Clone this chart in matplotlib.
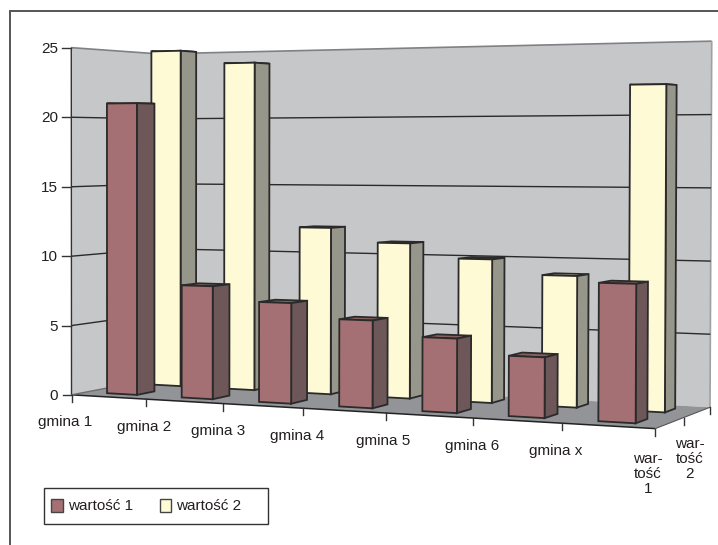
import numpy as np
import matplotlib
matplotlib.use("Agg")
import matplotlib.pyplot as plt
from matplotlib.patches import Polygon, Rectangle

plt.rcParams['font.family'] = ['Liberation Sans', 'DejaVu Sans']

# chart data
categories = ['gmina 1', 'gmina 2', 'gmina 3', 'gmina 4', 'gmina 5', 'gmina 6', 'gmina x']
series_names = ['wartość 1', 'wartość 2']
values_1 = [21, 8, 7, 6, 5, 4, 9]
values_2 = [25, 24, 12, 11, 10, 9, 22]
z_ticks = [0, 5, 10, 15, 20, 25]

# colours: front, side, top
maroon = ('#a47074', '#6d5759', '#84605f')
cream = ('#fffad6', '#96968a', '#e6e2c0')
wall_col = '#c6c7c9'
floor_col = '#929497'
edge_col = '#2b2a2a'
text_col = '#231f20'
font_size = 11

# perspective camera, solved from where the box corners and ticks land on the page
# (category position, series depth, value) -> page pixel
box_corners = [
    ((0, 0, 0), (72, 395)), ((0, 0, 25), (71, 47)),
    ((0, 0, 20), (72, 116)), ((0, 0, 10), (72, 256)),
    ((0, 2, 0), (158, 378)), ((0, 2, 25), (158, 55)),
    ((7, 2, 0), (711, 405)), ((7, 2, 25), (712, 41)),
    ((7, 2, 20), (711, 115)), ((7, 2, 10), (711, 262)),
    ((1, 0, 0), (145.5, 400)), ((2, 0, 0), (223.5, 404)), ((3, 0, 0), (303.5, 408)),
    ((4, 0, 0), (386, 413)), ((5, 0, 0), (472, 418)), ((6, 0, 0), (561.5, 424)),
    ((7, 0, 0), (655, 429)),
]
rows = []
rhs = []
for (x, y, z), (u, v) in box_corners:
    rows.append([x, y, z, 1, 0, 0, 0, 0, -u * x, -u * y, -u * z])
    rhs.append(u)
    rows.append([0, 0, 0, 0, x, y, z, 1, -v * x, -v * y, -v * z])
    rhs.append(v)
sol = np.linalg.lstsq(np.array(rows, float), np.array(rhs, float), rcond=None)[0]
cam = np.append(sol, 1).reshape(3, 4)


def proj(x, y, z):
    p = cam @ np.array([x, y, z, 1.0])
    return p[0] / p[2], p[1] / p[2]


def face(ax, pts, color, zorder, lw=1.3):
    ax.add_patch(Polygon([proj(*p) for p in pts], closed=True, facecolor=color,
                         edgecolor=edge_col, linewidth=lw, joinstyle='miter', zorder=zorder))


def line3(ax, a, b, color=edge_col, lw=1.0, zorder=2):
    pa, pb = proj(*a), proj(*b)
    ax.plot([pa[0], pb[0]], [pa[1], pb[1]], color=color, lw=lw, zorder=zorder,
            solid_capstyle='butt')


def bar3(ax, i, y0, y1, h, cols, zorder):
    x0, x1 = i + 0.285, i + 0.69
    face(ax, [(x0, y0, h), (x1, y0, h), (x1, y1, h), (x0, y1, h)], cols[2], zorder)
    face(ax, [(x1, y0, 0), (x1, y1, 0), (x1, y1, h), (x1, y0, h)], cols[1], zorder + 0.1)
    face(ax, [(x0, y0, 0), (x1, y0, 0), (x1, y0, h), (x0, y0, h)], cols[0], zorder + 0.2)


fig = plt.figure(figsize=(7.18, 5.45), dpi=100)
ax = fig.add_axes([0, 0, 1, 1])
ax.set_xlim(0, 718)
ax.set_ylim(545, 0)
ax.axis('off')

n = len(categories)
top = z_ticks[-1]

# walls and floor
ax.add_patch(Polygon([proj(0, 0, 0), proj(0, 0, top), proj(0, 2, top), proj(n, 2, top),
                      proj(n, 2, 0), proj(0, 2, 0)], closed=True, facecolor=wall_col,
                     edgecolor='none', zorder=1))
ax.add_patch(Polygon([proj(0, 0, 0), proj(n, 0, 0), proj(n, 2, 0), proj(0, 2, 0)], closed=True,
                     facecolor=floor_col, edgecolor='none', zorder=1.5))
line3(ax, (0, 0, top), (0, 2, top), '#808184', 1.2)
line3(ax, (0, 2, top), (n, 2, top), '#808184', 1.2)
line3(ax, (n, 2, top), (n, 2, 0), '#a0a1a3', 1.2)

# gridlines on both walls
for z in z_ticks[1:-1]:
    line3(ax, (0, 0, z), (0, 2, z))
    line3(ax, (0, 2, z), (n, 2, z))

# axes and ticks
line3(ax, (0, 0, 0), (0, 0, top), '#333333', 1.0, 3)
line3(ax, (0, 0, 0), (n, 0, 0), '#222222', 1.1, 3)
line3(ax, (n, 0, 0), (n, 2, 0), '#555555', 0.8, 3)
line3(ax, (0, 0, 0), (0, 2, 0), '#6d6e70', 1.0, 3)
for z in z_ticks:
    u, v = proj(0, 0, z)
    ax.plot([u - 9, u], [v, v], color='#333333', lw=1.0, zorder=3)
    ax.text(58, v + 1, str(z), ha='right', va='center', fontsize=font_size, color=text_col)

# category labels drift a little against their ticks
label_dx = [-6, -2, -5, -6, -3, 0, -6]
for i in range(n + 1):
    u, v = proj(i, 0, 0)
    ax.plot([u, u], [v, v + 7], color='#333333', lw=1.0, zorder=3)
    if i < n:
        ax.text(u + label_dx[i], v + 27.5, categories[i], ha='center', va='center',
                fontsize=font_size, color=text_col)
for d in (1, 2):
    u, v = proj(n, d, 0)
    ax.plot([u, u], [v, v + 7], color='#333333', lw=1.0, zorder=3)

# the series labels sit on the depth axis
ax.text(648, 474, 'war-\ntość\n1', ha='center', va='center', fontsize=font_size, color=text_col,
        linespacing=1.08)
ax.text(690, 459, 'war-\ntość\n2', ha='center', va='center', fontsize=font_size, color=text_col,
        linespacing=1.08)

# back row first, so the front row overlaps it
for i, h in enumerate(values_2):
    bar3(ax, i, 1.34, 1.72, h, cream, 5)
for i, h in enumerate(values_1):
    bar3(ax, i, 0.32, 0.72, h, maroon, 6)

# legend
ax.add_patch(Rectangle((43.5, 487.5), 224, 36, facecolor='white', edgecolor='#333333', lw=1.0, zorder=7))
for sx, tx, name, cols in ((51, 68, series_names[0], maroon), (159.5, 176, series_names[1], cream)):
    ax.add_patch(Rectangle((sx, 499), 11.5, 12.5, facecolor=cols[0], edgecolor='#444444', lw=1.0, zorder=8))
    ax.text(tx, 505.5, name, ha='left', va='center', fontsize=font_size, color=text_col, zorder=8)

# page frame, open on the right and at the bottom
ax.plot([9.5, 9.5, 718], [545, 11, 11], color='#555555', lw=1.4, solid_joinstyle='miter')

fig.savefig('out.png', dpi=100)
